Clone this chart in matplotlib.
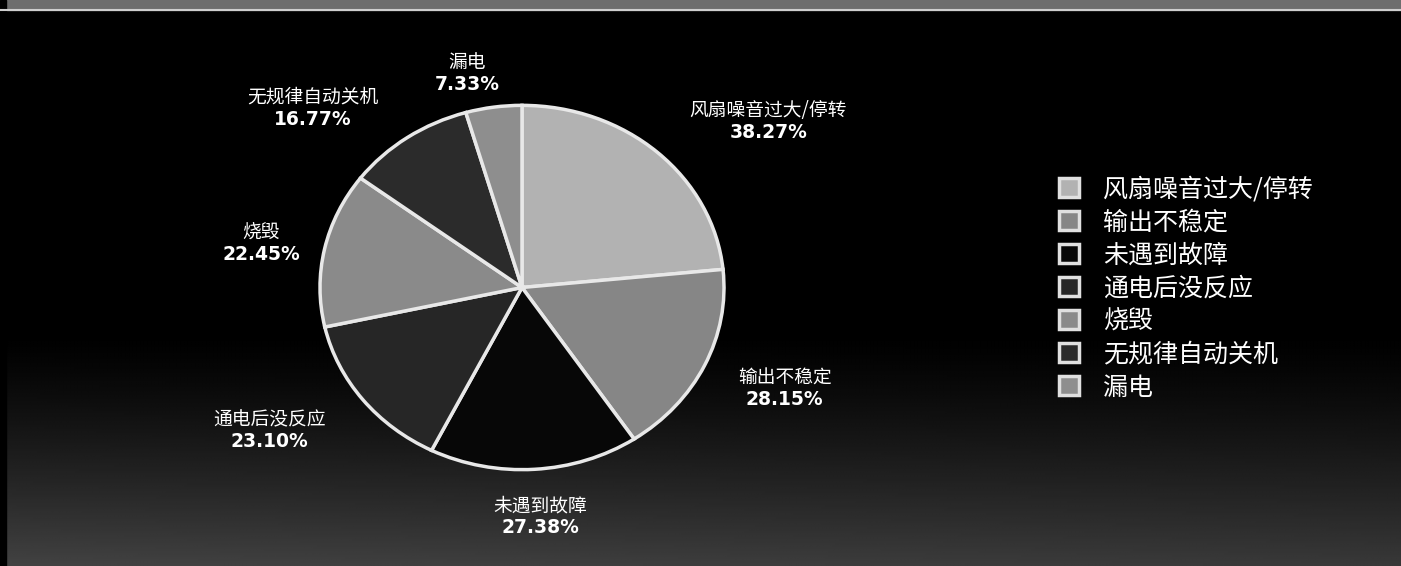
import matplotlib.pyplot as plt
import numpy as np

plt.rcParams['font.family'] = ['Noto Sans CJK SC', 'DejaVu Sans']

# data
faults = ['风扇噪音过大/停转', '输出不稳定', '未遇到故障', '通电后没反应', '烧毁', '无规律自动关机', '漏电']
shares = [38.27, 28.15, 27.38, 23.10, 22.45, 16.77, 7.33]
colors = ['#b2b2b2', '#868686', '#070707', '#262626', '#8a8a8a', '#2b2b2b', '#8e8e8e']

# label positions (data units of the pie axes)
label_pos = [(1.22, 0.915), (1.30, -0.55), (0.09, -1.255), (-1.25, -0.78),
             (-1.29, 0.245), (-1.035, 0.99), (-0.27, 1.18)]

fig = plt.figure(figsize=(14.01, 5.66), dpi=100)
fig.patch.set_facecolor('black')

# dark background, greyer toward the bottom
bg = fig.add_axes([0, 0, 1, 1])
rows = np.linspace(0, 566, 283)[:, None]          # pixels from top
cols = np.linspace(0, 1401, 400)[None, :]
grad = 0.26 * np.clip((rows - 330) / 236, 0, 1) ** 1.3 * (1 - 0.15 * cols / 1401)
bg.imshow(grad, cmap='gray', vmin=0, vmax=1, aspect='auto',
          extent=[0, 1, 0, 1], origin='upper', interpolation='bilinear')
bg.axhspan(0.983, 1.0, color='#6e6e6e')
bg.axhline(0.983, color='#cfcfcf', lw=1.5)
bg.axvspan(0, 0.004, color='black')
bg.set_xlim(0, 1)
bg.set_ylim(0, 1)
bg.axis('off')

ax = fig.add_axes([118 / 1401, (566 - 542.5) / 566, 808 / 1401, 510 / 566])
ax.pie(shares, colors=colors, startangle=90, counterclock=False,
       wedgeprops=dict(edgecolor='#e8e8e8', linewidth=2.5))
ax.set_aspect('auto')
ax.set_xlim(-2, 2)
ax.set_ylim(-1.4, 1.4)
ax.axis('off')

for name, val, (x, y) in zip(faults, shares, label_pos):
    ax.text(x, y + 0.055, name, color='white', fontsize=13.5, fontweight='medium',
            ha='center', va='center')
    ax.text(x, y - 0.065, f'{val:.2f}%', color='white', fontsize=13.5, fontweight='bold',
            ha='center', va='center', family='DejaVu Sans')

handles = [plt.Rectangle((0, 0), 1, 1, facecolor=c, edgecolor='#e0e0e0', linewidth=2.5) for c in colors]
leg = fig.legend(handles, faults, loc='upper left', bbox_to_anchor=(1036 / 1401, 1 - 154 / 566),
                 frameon=False, labelcolor='white', handlelength=0.8,
                 handleheight=0.8, handletextpad=1.0, labelspacing=0.28,
                 prop=dict(size=18, weight='medium'))

plt.savefig('out.png', dpi=100, facecolor='black')
